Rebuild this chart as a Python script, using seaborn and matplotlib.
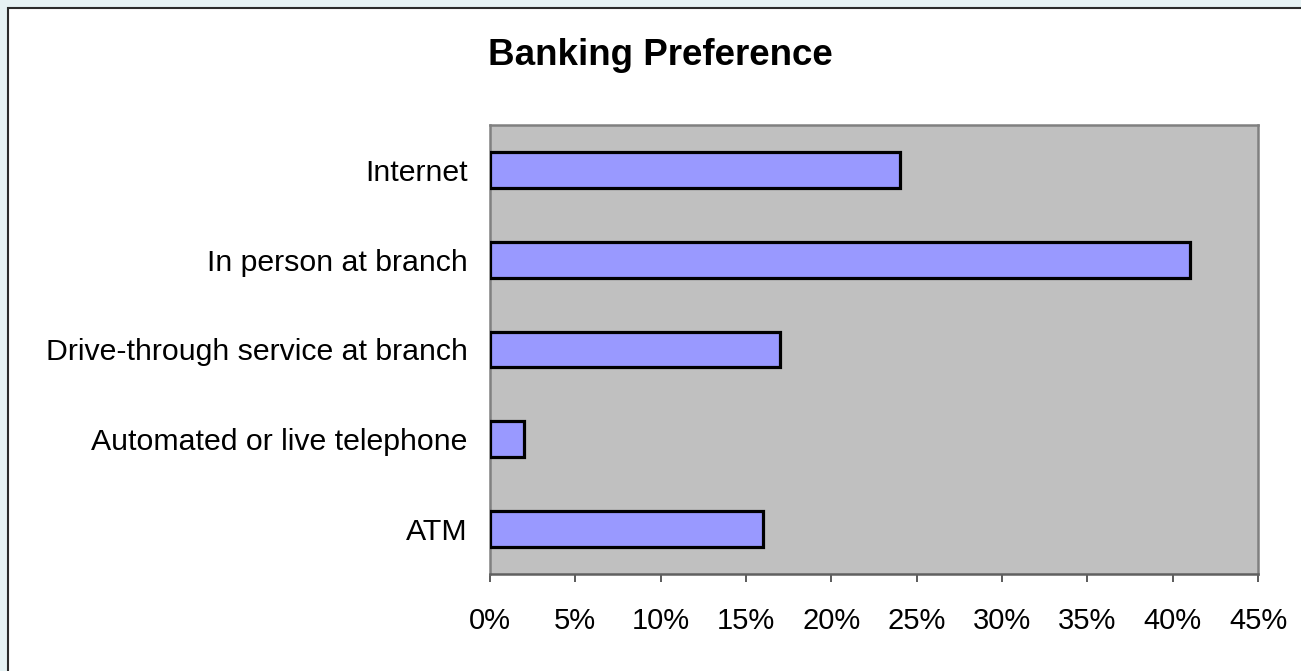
import matplotlib
matplotlib.use("Agg")
import matplotlib.pyplot as plt
from matplotlib.patches import Rectangle
from matplotlib.ticker import FuncFormatter, MultipleLocator
import seaborn as sns
import pandas as pd

# Survey results: share of respondents by preferred banking channel
channels = [
    "Internet",
    "In person at branch",
    "Drive-through service at branch",
    "Automated or live telephone",
    "ATM",
]
shares = [24, 41, 17, 2, 16]

df = pd.DataFrame({"channel": channels, "share": shares})

sns.set_style("white")
plt.rcParams["font.family"] = ["Liberation Sans", "DejaVu Sans"]

fig = plt.figure(figsize=(13.01, 6.71), dpi=100)
fig.patch.set_facecolor("#E6F2F4")

# White chart area with a dark frame on its top and left edges
frame = Rectangle((7.5 / 1301, -0.05), 1.2, 1 - 7.5 / 671 + 0.05,
                  transform=fig.transFigure, facecolor="white",
                  edgecolor="#2b2b2b", linewidth=1.5, zorder=-5)
fig.patches.append(frame)

ax = fig.add_axes([490 / 1301, 1 - 574 / 671, 768 / 1301, 449 / 671])
ax.set_zorder(1)
ax.set_facecolor("#C0C0C0")

sns.barplot(data=df, x="share", y="channel", orient="h", color="#9999FF",
            saturation=1, width=0.4, edgecolor="black", linewidth=2.3,
            ax=ax, zorder=3)

ax.set_xlim(0, 45)
ax.set_ylim(4.5, -0.5)
ax.xaxis.set_major_locator(MultipleLocator(5))
ax.xaxis.set_major_formatter(FuncFormatter(lambda v, _: f"{v:.0f}%"))

ax.set_xlabel("")
ax.set_ylabel("")

for side in ["top", "right"]:
    ax.spines[side].set_visible(True)
    ax.spines[side].set_color("#808080")
    ax.spines[side].set_linewidth(1.8)
ax.spines["left"].set_color("#808080")
ax.spines["left"].set_linewidth(1.8)
ax.spines["bottom"].set_color("#606060")
ax.spines["bottom"].set_linewidth(1.8)

ax.tick_params(axis="x", which="major", direction="out", length=6,
               width=1.2, color="#404040", pad=18, labelsize=21,
               labelcolor="black", bottom=True)
ax.tick_params(axis="y", which="major", length=0, pad=16, labelsize=21.8,
               labelcolor="black", left=False)

fig.text(660 / 1301, 1 - 65 / 671, "Banking Preference", ha="center",
         va="baseline", fontsize=26.5, fontweight="bold", color="black",
         zorder=2)

fig.savefig("out.png", dpi=100, facecolor=fig.get_facecolor())
